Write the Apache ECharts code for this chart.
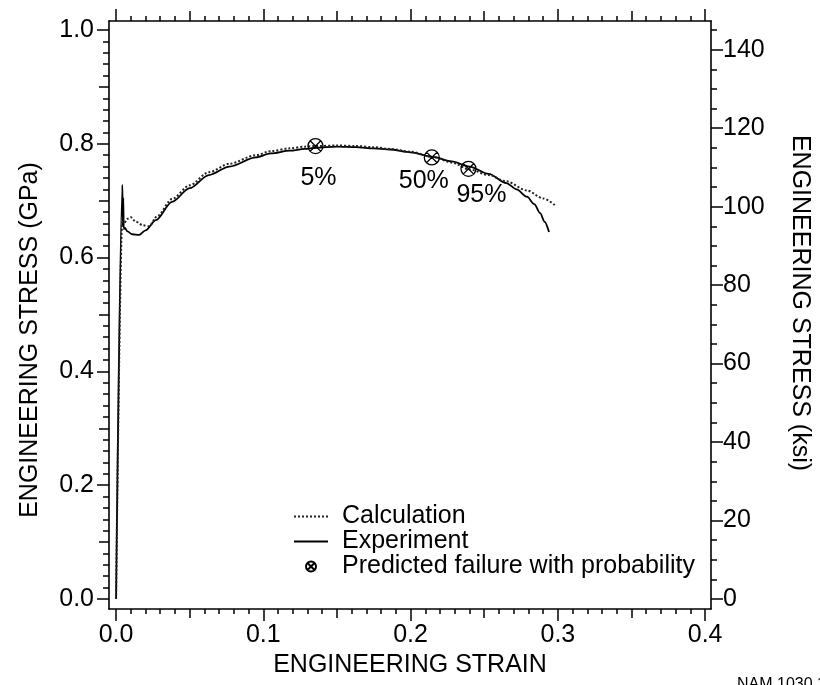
<!DOCTYPE html>
<html>
<head>
<meta charset="utf-8">
<script src="https://cdn.jsdelivr.net/npm/echarts@6/dist/echarts.min.js"></script>
<style>
html,body{margin:0;padding:0;background:#fff;}
#chart{width:820px;height:685px;}
</style>
</head>
<body>
<div id="chart"></div>
<script>
// ---- data ----
const expStrain = [0, 0.0043, 0.0046, 0.0049, 0.0052, 0.0060, 0.0077, 0.0110, 0.0156, 0.0200, 0.027, 0.038, 0.050, 0.063, 0.077, 0.095, 0.105, 0.118, 0.128, 0.136, 0.150, 0.163, 0.175, 0.186, 0.200, 0.215, 0.228, 0.240, 0.253, 0.265, 0.272, 0.279, 0.284, 0.288, 0.291, 0.294];
const expStress = [0, 0.728, 0.655, 0.705, 0.650, 0.652, 0.646, 0.641, 0.640, 0.648, 0.666, 0.698, 0.722, 0.745, 0.760, 0.776, 0.783, 0.788, 0.791, 0.793, 0.795, 0.794, 0.792, 0.790, 0.785, 0.777, 0.769, 0.760, 0.747, 0.731, 0.720, 0.707, 0.694, 0.678, 0.663, 0.645];

const calcStrain = [0, 0.0042, 0.0054, 0.0075, 0.0100, 0.0134, 0.0180, 0.0224, 0.028, 0.038, 0.050, 0.063, 0.077, 0.095, 0.105, 0.118, 0.128, 0.136, 0.150, 0.163, 0.175, 0.186, 0.200, 0.215, 0.228, 0.240, 0.253, 0.265, 0.279, 0.290, 0.299];
const calcStress = [0, 0.662, 0.660, 0.668, 0.671, 0.663, 0.657, 0.655, 0.673, 0.703, 0.727, 0.750, 0.765, 0.780, 0.787, 0.792, 0.795, 0.796, 0.797, 0.796, 0.794, 0.791, 0.786, 0.777, 0.767, 0.755, 0.745, 0.734, 0.718, 0.704, 0.690];

const failStrain = [0.1354, 0.2144, 0.2393];
const failStress = [0.796, 0.776, 0.756];
const failLabels = ['5%', '50%', '95%'];

const seriesNames = ['Calculation', 'Experiment', 'Predicted failure with probability'];

const xMajorTicks = [0, 0.1, 0.2, 0.3, 0.4];
const xMediumTicks = [0.05, 0.15, 0.25, 0.35];
const yGpaMajorTicks = [0, 0.2, 0.4, 0.6, 0.8, 1.0];
const yGpaMediumTicks = [0.1, 0.3, 0.5, 0.7, 0.9];
const yKsiMajorTicks = [0, 20, 40, 60, 80, 100, 120, 140];

const xTitle = 'ENGINEERING STRAIN';
const yLeftTitle = 'ENGINEERING STRESS (GPa)';
const yRightTitle = 'ENGINEERING STRESS (ksi)';
const noteText = 'NAM 1030 15';

// ---- axis ranges ----
const GPA_TO_KSI = 145.038;
const xMin = -0.0048, xMax = 0.404;
const yMin = -0.0176, yMax = 1.0158;

function minorList(step, from, to, exclude) {
  const out = [];
  const n = Math.round((to - from) / step);
  for (let i = 0; i <= n; i++) {
    const v = +(from + i * step).toFixed(6);
    if (!exclude.some(e => Math.abs(e - v) < 1e-9)) out.push(v);
  }
  return out;
}
const xMinorTicks = minorList(0.01, 0, 0.4, xMajorTicks.concat(xMediumTicks));
const yGpaMinorTicks = minorList(0.02, 0, 1.0, yGpaMajorTicks.concat(yGpaMediumTicks));
const yKsiMinorTicks = minorList(5, 0, 145, yKsiMajorTicks);

const FONT = "'Liberation Sans', Arial, Helvetica, sans-serif";
const INK = '#000';
const FS = 25;

function tickAxis(position, min, max, values, len, opts) {
  return Object.assign({
    type: 'value', position: position, min: min, max: max,
    splitLine: {show: false},
    axisLine: {show: false, onZero: false},
    axisTick: {show: true, inside: false, length: len, customValues: values, lineStyle: {color: INK, width: 1.5}},
    axisLabel: {show: false},
    axisPointer: {show: false}
  }, opts || {});
}

const symbolPath = 'path://M50,0 A50,50 0 1,1 50,100 A50,50 0 1,1 50,0 Z M14.6,14.6 L85.4,85.4 M85.4,14.6 L14.6,85.4';
const labelOffsets = [[3, 11], [-8, 3], [13, 6]];

const chart = echarts.init(document.getElementById('chart'), null, {renderer: 'canvas'});

const option = {
  animation: false,
  backgroundColor: '#fff',
  textStyle: {fontFamily: FONT, color: INK},
  grid: {left: 109, top: 21, width: 603, height: 588, containLabel: false},
  legend: {
    orient: 'vertical', left: 293, top: 504, padding: 0,
    itemWidth: 34, itemHeight: 10, itemGap: 0,
    selectedMode: false,
    data: [
      {name: seriesNames[0], itemStyle: {opacity: 0}},
      {name: seriesNames[1], itemStyle: {opacity: 0}},
      {name: seriesNames[2]}
    ],
    textStyle: {fontFamily: FONT, fontSize: FS, color: INK, lineHeight: 23, padding: [0, 0, 0, 9]}
  },
  xAxis: [
    tickAxis('bottom', xMin, xMax, xMajorTicks, 12, {
      axisLine: {show: true, onZero: false, lineStyle: {color: INK, width: 1.6}},
      axisLabel: {show: true, customValues: xMajorTicks, formatter: v => v.toFixed(1), fontSize: FS, margin: 14, color: INK, fontFamily: FONT},
      name: xTitle, nameLocation: 'middle', nameGap: 43,
      nameTextStyle: {fontSize: FS, color: INK, fontFamily: FONT}
    }),
    tickAxis('bottom', xMin, xMax, xMediumTicks, 9),
    tickAxis('bottom', xMin, xMax, xMinorTicks, 5),
    tickAxis('top', xMin, xMax, xMajorTicks, 12, {
      axisLine: {show: true, onZero: false, lineStyle: {color: INK, width: 1.6}}
    }),
    tickAxis('top', xMin, xMax, xMediumTicks, 10),
    tickAxis('top', xMin, xMax, xMinorTicks, 5)
  ],
  yAxis: [
    tickAxis('left', yMin, yMax, yGpaMajorTicks, 12, {
      axisLine: {show: true, onZero: false, lineStyle: {color: INK, width: 1.6}},
      axisLabel: {show: true, customValues: yGpaMajorTicks, formatter: v => v.toFixed(1), fontSize: FS, margin: 15, color: INK, fontFamily: FONT},
      name: yLeftTitle, nameLocation: 'middle', nameRotate: 90, nameGap: 66,
      nameTextStyle: {fontSize: FS, color: INK, fontFamily: FONT, padding: [0, 50, 0, 0]}
    }),
    tickAxis('left', yMin, yMax, yGpaMediumTicks, 10),
    tickAxis('left', yMin, yMax, yGpaMinorTicks, 6),
    tickAxis('right', yMin * GPA_TO_KSI, yMax * GPA_TO_KSI, yKsiMajorTicks, 12, {
      axisLine: {show: true, onZero: false, lineStyle: {color: INK, width: 1.6}},
      axisLabel: {show: true, customValues: yKsiMajorTicks, formatter: v => String(v), fontSize: FS, margin: 12, color: INK, fontFamily: FONT},
      name: yRightTitle, nameLocation: 'middle', nameRotate: -90, nameGap: 76,
      nameTextStyle: {fontSize: FS, color: INK, fontFamily: FONT, padding: [0, 24, 0, 0]}
    }),
    tickAxis('right', yMin * GPA_TO_KSI, yMax * GPA_TO_KSI, yKsiMinorTicks, 6)
  ],
  series: [
    {
      name: seriesNames[0], type: 'line', xAxisIndex: 0, yAxisIndex: 0,
      symbol: 'none', smooth: 0.3, smoothMonotone: 'x',
      lineStyle: {color: '#222', width: 2, type: [2, 2]},
      itemStyle: {color: '#222'},
      data: calcStrain.map((x, i) => [x, calcStress[i]]),
      z: 3
    },
    {
      name: seriesNames[1], type: 'line', xAxisIndex: 0, yAxisIndex: 0,
      symbol: 'none', smooth: 0.3, smoothMonotone: 'x',
      lineStyle: {color: INK, width: 1.8},
      itemStyle: {color: INK},
      data: expStrain.map((x, i) => [x, expStress[i]]),
      z: 2
    },
    {
      name: seriesNames[2], type: 'scatter', xAxisIndex: 0, yAxisIndex: 0,
      symbol: symbolPath, symbolSize: 15,
      itemStyle: {color: 'rgba(0,0,0,0)', borderColor: INK, borderWidth: 1.3, opacity: 1},
      label: {show: true, position: 'bottom', distance: 0, fontSize: FS, color: INK, fontFamily: FONT,
        textBorderWidth: 0, formatter: p => failLabels[p.dataIndex]},
      data: failStrain.map((x, i) => ({value: [x, failStress[i]], label: {offset: labelOffsets[i]}})),
      z: 4
    }
  ],
  graphic: [
    {type: 'text', left: 737, top: 677, style: {text: noteText, font: '16px ' + FONT, fill: INK}}
  ]
};
chart.setOption(option);
</script>
</body>
</html>
